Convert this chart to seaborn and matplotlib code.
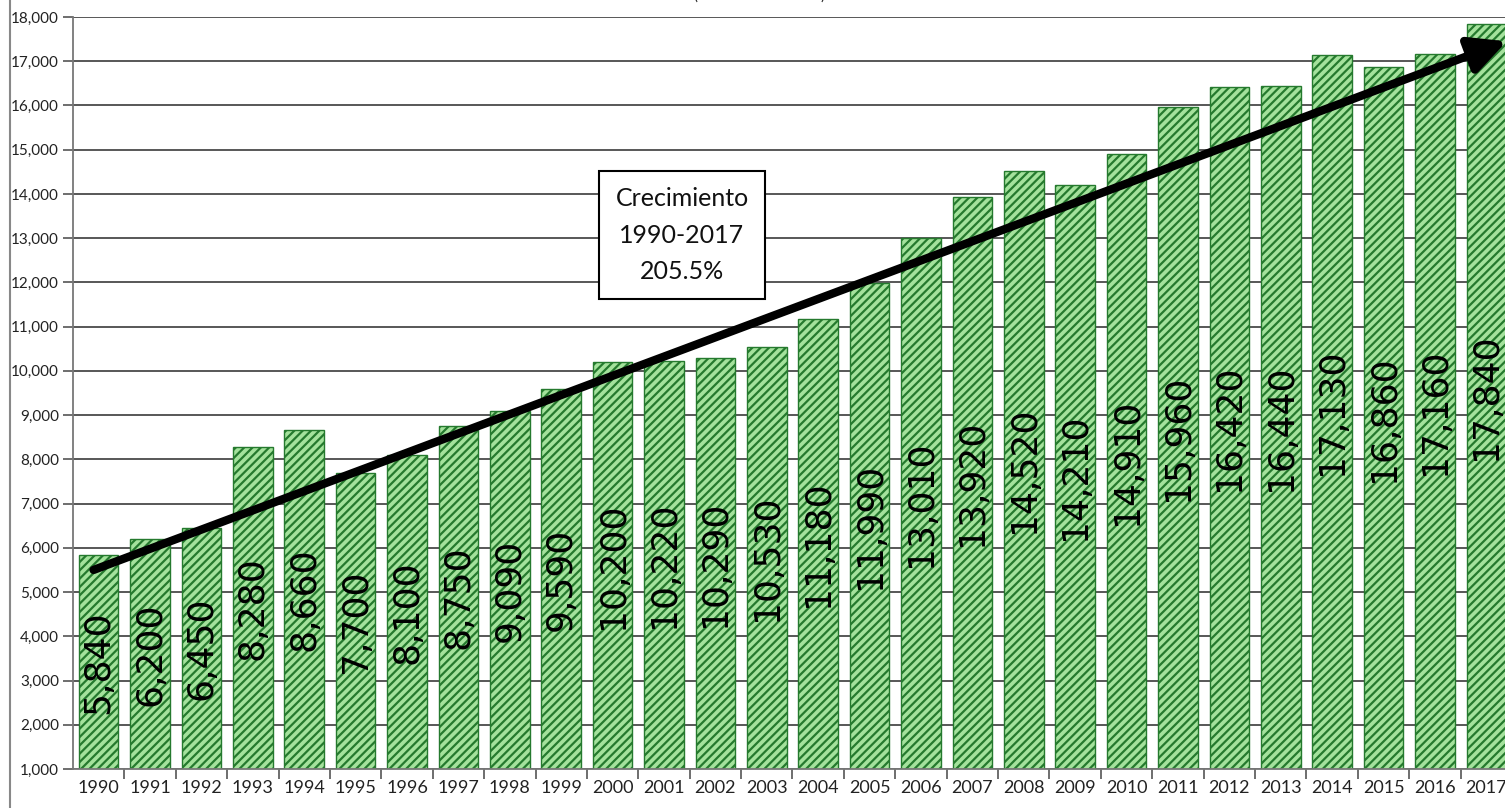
import numpy as np
import matplotlib
matplotlib.use('Agg')
import matplotlib.pyplot as plt
import seaborn as sns
from matplotlib.lines import Line2D


# Data
years = [str(y) for y in range(1990, 2018)]
values = [5840, 6200, 6450, 8280, 8660, 7700, 8100, 8750, 9090, 9590,
          10200, 10220, 10290, 10530, 11180, 11990, 13010, 13920, 14520, 14210,
          14910, 15960, 16420, 16440, 17130, 16860, 17160, 17840]
yticks = list(range(1000, 19000, 1000))
box_text = 'Crecimiento\n1990-2017\n205.5%'
subtitle = '(Dólares corrientes)'


sns.set_style('white')
narrow = ['Lato', 'DejaVu Sans']
plt.rcParams['font.family'] = narrow
plt.rcParams['hatch.color'] = '#257a2e'
plt.rcParams['hatch.linewidth'] = 1.6

fig = plt.figure(figsize=(15.05, 8.08), dpi=100)
ax = fig.add_axes([73 / 1505, 39 / 808, 1439 / 1505, 752 / 808])

# Bars
sns.barplot(x=years, y=values, color='#a4e29c', width=0.77, ax=ax,
            edgecolor='#257a2e', linewidth=1.0, hatch='////', saturation=1)
for p in ax.patches:
    p.set_hatch('////')

ax.set_xlim(-0.5, len(years) - 0.5)
ax.set_ylim(1000, 18000)

# Grid and axes
ax.set_yticks(yticks)
ax.set_yticklabels([f'{t:,}' for t in yticks], fontsize=11, color='#222222')
ax.yaxis.grid(True, color='#4a4a4a', linewidth=1.3)
ax.set_axisbelow(True)
for s in ['top', 'right']:
    ax.spines[s].set_visible(False)
for s in ['left', 'bottom']:
    ax.spines[s].set_color('#777777')
    ax.spines[s].set_linewidth(1.3)
ax.tick_params(axis='y', left=True, length=7, width=1.2, color='#555555', pad=3)
ax.set_xticks(range(len(years)))
ax.set_xticklabels(years, fontsize=13, color='#222222')
ax.set_xticks(np.arange(len(years)) + 0.5, minor=True)
ax.tick_params(axis='x', which='major', length=0, pad=8)
ax.tick_params(axis='x', which='minor', bottom=True, length=7, width=1.2, color='#555555')
ax.set_xlabel('')
ax.set_ylabel('')

# Value labels inside bars
for i, v in enumerate(values):
    ax.text(i, (1000 + v) / 2, f'{v:,}', rotation=90, ha='center', va='center',
            fontsize=26, family='DejaVu Sans', color='black')

# Trend arrow
ax.annotate('', xy=(27.4, 17450), xytext=(-0.1, 5500),
            arrowprops=dict(arrowstyle='-|>', lw=6, color='black',
                            mutation_scale=55, shrinkA=0, shrinkB=0),
            annotation_clip=False)

# Growth box
ax.text(11.35, 13070, box_text, ha='center', va='center', fontsize=18,
        linespacing=1.7, family=narrow, color='#111111',
        bbox=dict(boxstyle='square,pad=0.65', facecolor='white',
                  edgecolor='black', linewidth=1.5))

# Subtitle cut at the top
fig.text(0.505, 1.006, subtitle, ha='center', va='center', fontsize=11)

# Left border line
fig.add_artist(Line2D([10 / 1505, 10 / 1505], [0, 1], color='#888888', lw=1.5))

fig.savefig('out.png', dpi=100)
